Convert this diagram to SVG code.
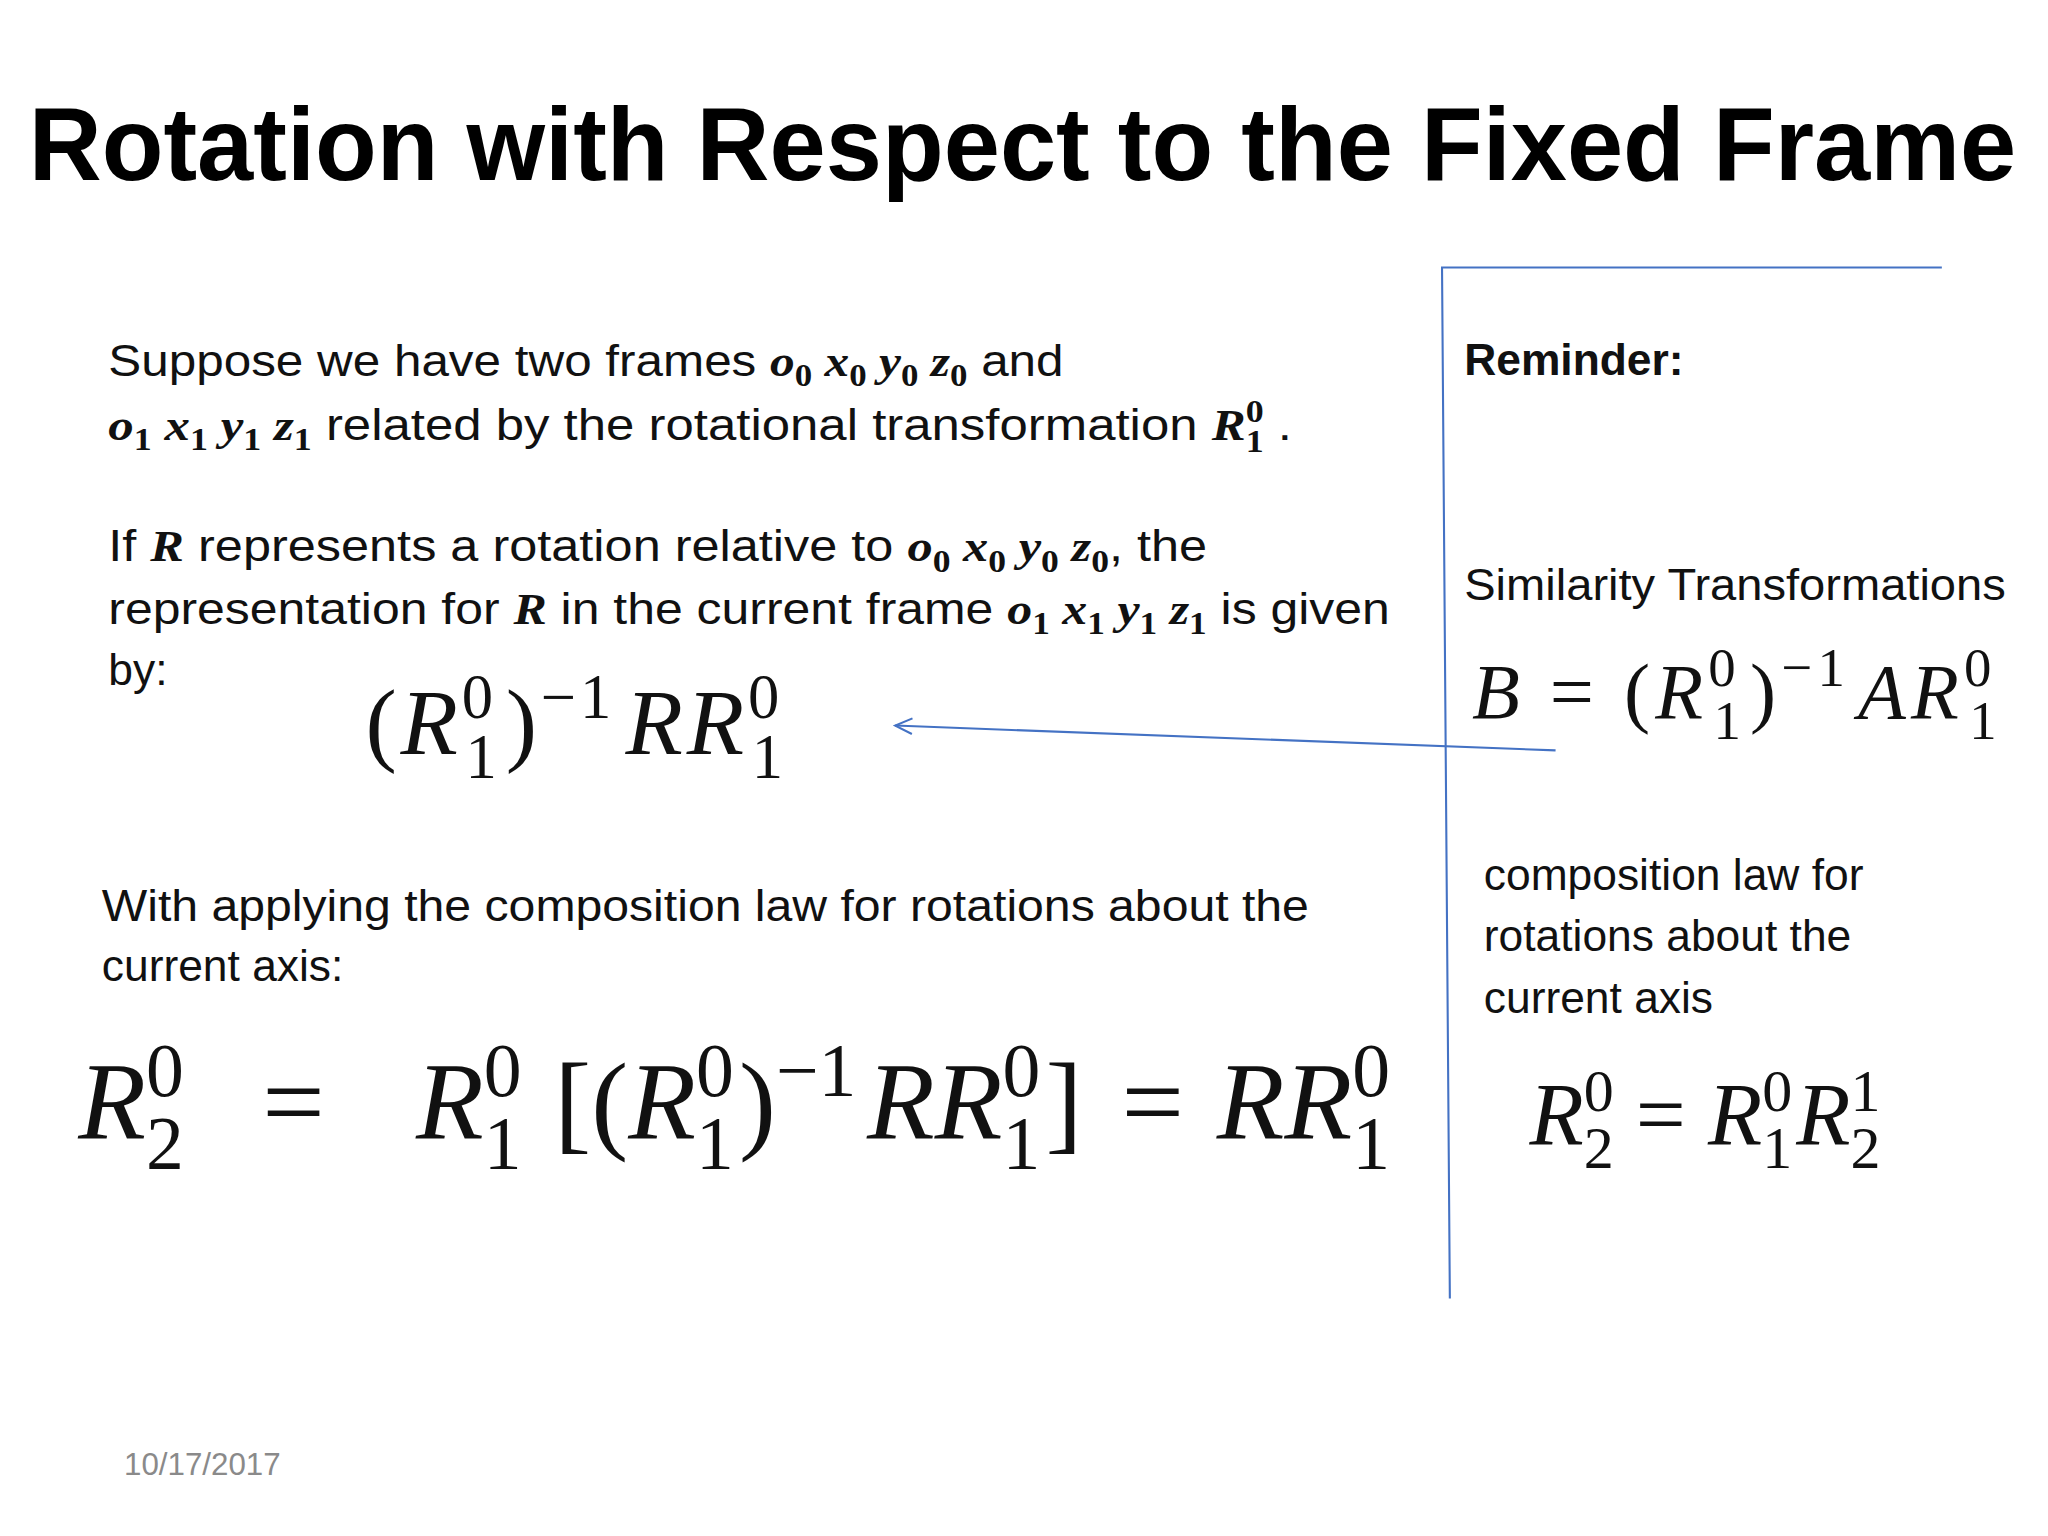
<svg xmlns="http://www.w3.org/2000/svg" width="2048" height="1536" viewBox="0 0 2048 1536">
<style>
.t{font-family:"Liberation Sans",Arial,sans-serif;font-size:34px;fill:#111}
.b{font-weight:bold}
.mi{font-family:"Liberation Serif",serif;font-style:italic;font-weight:bold}
.ms{font-family:"Liberation Serif",serif;font-weight:bold;font-size:24px}
.m{font-family:"Liberation Serif","Times New Roman",serif;fill:#111}
.i{font-style:italic}
.ln{stroke:#4472C4;stroke-width:1.6;fill:none}
</style>
<defs><marker id="ah" markerWidth="16" markerHeight="16" refX="14" refY="7" orient="auto" markerUnits="userSpaceOnUse"><path d="M1,1 L14,7 L1,13" fill="none" stroke="#4472C4" stroke-width="1.6"/></marker></defs>
<rect width="2048" height="1536" fill="#fff"/>
<g transform="scale(1.305)">
<g id="title"><text x="22" y="138" font-family="Liberation Sans,Arial,sans-serif" font-weight="bold" font-size="80" textLength="1523" lengthAdjust="spacingAndGlyphs" fill="#000">Rotation with Respect to the Fixed Frame</text></g>
<g id="left-text">
<text class="t" x="83" y="288" textLength="732" lengthAdjust="spacingAndGlyphs">Suppose we have two frames <tspan class="mi">o</tspan><tspan class="ms" dy="8">0</tspan><tspan class="mi" dy="-8"> x</tspan><tspan class="ms" dy="8">0</tspan><tspan class="mi" dy="-8"> y</tspan><tspan class="ms" dy="8">0</tspan><tspan class="mi" dy="-8"> z</tspan><tspan class="ms" dy="8">0</tspan><tspan dy="-8"> and</tspan></text>
<text class="t" x="83" y="337" textLength="907" lengthAdjust="spacingAndGlyphs"><tspan class="mi">o</tspan><tspan class="ms" dy="8">1</tspan><tspan class="mi" dy="-8"> x</tspan><tspan class="ms" dy="8">1</tspan><tspan class="mi" dy="-8"> y</tspan><tspan class="ms" dy="8">1</tspan><tspan class="mi" dy="-8"> z</tspan><tspan class="ms" dy="8">1</tspan><tspan dy="-8"> related by the rotational transformation </tspan><tspan class="mi">R</tspan><tspan class="ms" dy="-14">0</tspan><tspan class="ms" dx="-12" dy="23">1</tspan><tspan dy="-9"> .</tspan></text>
<text class="t" x="83" y="430" textLength="842" lengthAdjust="spacingAndGlyphs">If <tspan class="mi">R</tspan> represents a rotation relative to <tspan class="mi">o</tspan><tspan class="ms" dy="8">0</tspan><tspan class="mi" dy="-8"> x</tspan><tspan class="ms" dy="8">0</tspan><tspan class="mi" dy="-8"> y</tspan><tspan class="ms" dy="8">0</tspan><tspan class="mi" dy="-8"> z</tspan><tspan class="ms" dy="8">0</tspan><tspan dy="-8">, the</tspan></text>
<text class="t" x="83" y="478" textLength="982" lengthAdjust="spacingAndGlyphs">representation for <tspan class="mi">R</tspan> in the current frame <tspan class="mi">o</tspan><tspan class="ms" dy="8">1</tspan><tspan class="mi" dy="-8"> x</tspan><tspan class="ms" dy="8">1</tspan><tspan class="mi" dy="-8"> y</tspan><tspan class="ms" dy="8">1</tspan><tspan class="mi" dy="-8"> z</tspan><tspan class="ms" dy="8">1</tspan><tspan dy="-8"> is given</tspan></text>
<text class="t" x="83" y="525">by:</text>
<text class="t" x="78" y="706" textLength="925" lengthAdjust="spacingAndGlyphs">With applying the composition law for rotations about the</text>
<text class="t" x="78" y="752">current axis:</text>
<text x="95" y="1130" font-family="Liberation Sans,Arial,sans-serif" font-size="24" fill="#8a8a8a">10/17/2017</text>
</g>
<g id="formula1"><text class="m" x="280" y="578" font-size="72" textLength="320" lengthAdjust="spacing"><tspan>(</tspan><tspan class="i">R</tspan><tspan font-size="48" dy="-28">0</tspan><tspan font-size="48" dx="-24" dy="46">1</tspan><tspan dy="-18" dx="4">)</tspan><tspan font-size="48" dy="-28">−1</tspan><tspan class="i" dy="28" dx="8">RR</tspan><tspan font-size="48" dy="-28">0</tspan><tspan font-size="48" dx="-24" dy="46">1</tspan></text></g>
<g id="formula-main"><text class="m" x="60" y="873" font-size="85"><tspan class="i">R</tspan><tspan font-size="58" dy="-33">0</tspan><tspan font-size="58" dx="-29" dy="56">2</tspan><tspan dy="-23" dx="60">=</tspan><tspan dx="70" class="i">R</tspan><tspan font-size="58" dy="-33">0</tspan><tspan font-size="58" dx="-29" dy="56">1</tspan><tspan dy="-23" dx="25">[(</tspan><tspan class="i">R</tspan><tspan font-size="58" dy="-33">0</tspan><tspan font-size="58" dx="-29" dy="56">1</tspan><tspan dy="-23" dx="4">)</tspan><tspan font-size="58" dy="-33">−1</tspan><tspan class="i" dy="33" dx="8">RR</tspan><tspan font-size="58" dy="-33">0</tspan><tspan font-size="58" dx="-29" dy="56">1</tspan><tspan dy="-23" dx="4">]</tspan><tspan dx="30">=</tspan><tspan dx="25" class="i">RR</tspan><tspan font-size="58" dy="-33">0</tspan><tspan font-size="58" dx="-29" dy="56">1</tspan></text></g>
<g id="reminder">
<text class="t b" x="1122" y="287">Reminder:</text>
<text class="t" x="1122" y="460" textLength="415" lengthAdjust="spacingAndGlyphs">Similarity Transformations</text>
<text class="m" x="1128" y="550" font-size="60" textLength="402" lengthAdjust="spacing"><tspan class="i">B</tspan><tspan> = (</tspan><tspan class="i">R</tspan><tspan font-size="42" dy="-24">0</tspan><tspan font-size="42" dx="-21" dy="40">1</tspan><tspan dy="-16" dx="3">)</tspan><tspan font-size="42" dy="-24">−1</tspan><tspan class="i" dy="24" dx="6">AR</tspan><tspan font-size="42" dy="-24">0</tspan><tspan font-size="42" dx="-21" dy="40">1</tspan></text>
<text class="t" x="1137" y="682">composition law for</text>
<text class="t" x="1137" y="729">rotations about the</text>
<text class="t" x="1137" y="776">current axis</text>
<text class="m" x="1172" y="877" font-size="68"><tspan class="i">R</tspan><tspan font-size="46" dy="-26">0</tspan><tspan font-size="46" dx="-23" dy="44">2</tspan><tspan dy="-18"> = </tspan><tspan class="i">R</tspan><tspan font-size="46" dy="-26">0</tspan><tspan font-size="46" dx="-23" dy="44">1</tspan><tspan dy="-18" class="i" dx="3">R</tspan><tspan font-size="46" dy="-26">1</tspan><tspan font-size="46" dx="-23" dy="44">2</tspan></text>
</g>
<g id="connectors">
<path class="ln" d="M1488,205 L1105,205 L1111,995"/>
<path class="ln" d="M1192,575 L686,556" marker-end="url(#ah)"/>
</g>
</g>
</svg>
